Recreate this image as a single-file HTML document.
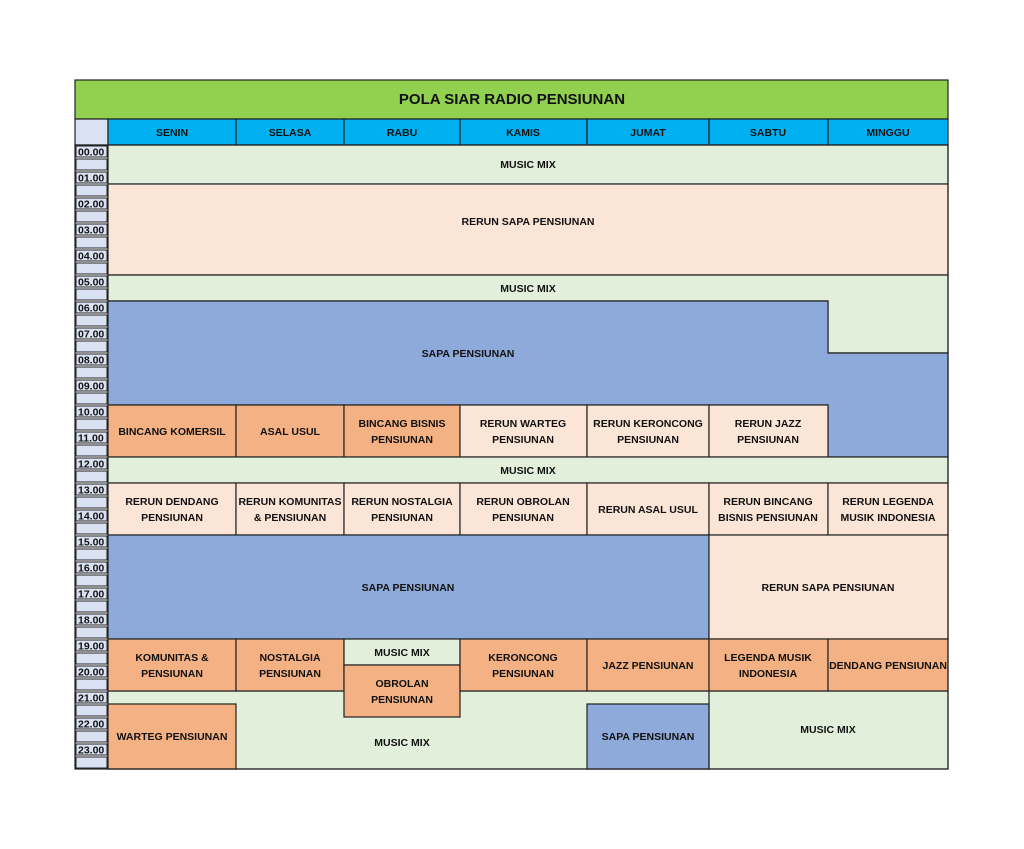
<!DOCTYPE html>
<html><head><style>body{margin:0;background:#fff}svg{display:block}text{font-family:"Liberation Sans",sans-serif;font-weight:bold;fill:#111}</style></head><body>
<svg width="1024" height="849" viewBox="0 0 1024 849" xmlns="http://www.w3.org/2000/svg">
<g stroke="#222" stroke-width="1.2">
<rect x="75" y="80" width="873" height="39" fill="#92d050"/>
<rect x="75" y="119" width="33" height="26" fill="#d9e1f2"/>
<rect x="108" y="119" width="128" height="26" fill="#00b0f0"/>
<rect x="236" y="119" width="108" height="26" fill="#00b0f0"/>
<rect x="344" y="119" width="116" height="26" fill="#00b0f0"/>
<rect x="460" y="119" width="127" height="26" fill="#00b0f0"/>
<rect x="587" y="119" width="122" height="26" fill="#00b0f0"/>
<rect x="709" y="119" width="119" height="26" fill="#00b0f0"/>
<rect x="828" y="119" width="120" height="26" fill="#00b0f0"/>
</g>
<g id="tc" stroke="#222" stroke-width="1" fill="#d9e1f2"></g>
<g stroke="#222" stroke-width="1.2">
<rect x="108" y="145" width="840" height="39" fill="#e2efda"/>
<rect x="108" y="184" width="840" height="91" fill="#fbe5d7"/>
<polygon points="108,275 948,275 948,353 828,353 828,301 108,301" fill="#e2efda"/>
<polygon points="108,301 828,301 828,353 948,353 948,457 828,457 828,405 108,405" fill="#8eaadb"/>
<rect x="108" y="405" width="128" height="52" fill="#f4b183"/>
<rect x="236" y="405" width="108" height="52" fill="#f4b183"/>
<rect x="344" y="405" width="116" height="52" fill="#f4b183"/>
<rect x="460" y="405" width="127" height="52" fill="#fbe5d7"/>
<rect x="587" y="405" width="122" height="52" fill="#fbe5d7"/>
<rect x="709" y="405" width="119" height="52" fill="#fbe5d7"/>
<rect x="108" y="457" width="840" height="26" fill="#e2efda"/>
<rect x="108" y="483" width="128" height="52" fill="#fbe5d7"/>
<rect x="236" y="483" width="108" height="52" fill="#fbe5d7"/>
<rect x="344" y="483" width="116" height="52" fill="#fbe5d7"/>
<rect x="460" y="483" width="127" height="52" fill="#fbe5d7"/>
<rect x="587" y="483" width="122" height="52" fill="#fbe5d7"/>
<rect x="709" y="483" width="119" height="52" fill="#fbe5d7"/>
<rect x="828" y="483" width="120" height="52" fill="#fbe5d7"/>
<rect x="108" y="535" width="601" height="104" fill="#8eaadb"/>
<rect x="709" y="535" width="239" height="104" fill="#fbe5d7"/>
<rect x="108" y="691" width="840" height="78" fill="#e2efda"/>
<rect x="108" y="639" width="128" height="52" fill="#f4b183"/>
<rect x="236" y="639" width="108" height="52" fill="#f4b183"/>
<rect x="344" y="639" width="116" height="26" fill="#e2efda"/>
<rect x="344" y="665" width="116" height="52" fill="#f4b183"/>
<rect x="460" y="639" width="127" height="52" fill="#f4b183"/>
<rect x="587" y="639" width="122" height="52" fill="#f4b183"/>
<rect x="709" y="639" width="119" height="52" fill="#f4b183"/>
<rect x="828" y="639" width="120" height="52" fill="#f4b183"/>
<rect x="108" y="704" width="128" height="65" fill="#f4b183"/>
<rect x="587" y="704" width="122" height="65" fill="#8eaadb"/>
<line x1="709" y1="691" x2="709" y2="769"/>
</g>
<g font-size="10.5" text-anchor="middle">
<text x="512" y="104" font-size="15">POLA SIAR RADIO PENSIUNAN</text>
<text x="172" y="136">SENIN</text><text x="290" y="136">SELASA</text><text x="402" y="136">RABU</text><text x="523" y="136">KAMIS</text><text x="648" y="136">JUMAT</text><text x="768" y="136">SABTU</text><text x="888" y="136">MINGGU</text>
<text x="528" y="168">MUSIC MIX</text>
<text x="528" y="225">RERUN SAPA PENSIUNAN</text>
<text x="528" y="292">MUSIC MIX</text>
<text x="468" y="357">SAPA PENSIUNAN</text>
<text x="172" y="435">BINCANG KOMERSIL</text>
<text x="290" y="435">ASAL USUL</text>
<text x="402" y="427">BINCANG BISNIS</text><text x="402" y="443">PENSIUNAN</text>
<text x="523" y="427">RERUN WARTEG</text><text x="523" y="443">PENSIUNAN</text>
<text x="648" y="427">RERUN KERONCONG</text><text x="648" y="443">PENSIUNAN</text>
<text x="768" y="427">RERUN JAZZ</text><text x="768" y="443">PENSIUNAN</text>
<text x="528" y="474">MUSIC MIX</text>
<text x="172" y="505">RERUN DENDANG</text><text x="172" y="521">PENSIUNAN</text>
<text x="290" y="505">RERUN KOMUNITAS</text><text x="290" y="521">&amp; PENSIUNAN</text>
<text x="402" y="505">RERUN NOSTALGIA</text><text x="402" y="521">PENSIUNAN</text>
<text x="523" y="505">RERUN OBROLAN</text><text x="523" y="521">PENSIUNAN</text>
<text x="648" y="513">RERUN ASAL USUL</text>
<text x="768" y="505">RERUN BINCANG</text><text x="768" y="521">BISNIS PENSIUNAN</text>
<text x="888" y="505">RERUN LEGENDA</text><text x="888" y="521">MUSIK INDONESIA</text>
<text x="408" y="591">SAPA PENSIUNAN</text>
<text x="828" y="591">RERUN SAPA PENSIUNAN</text>
<text x="172" y="661">KOMUNITAS &amp;</text><text x="172" y="677">PENSIUNAN</text>
<text x="290" y="661">NOSTALGIA</text><text x="290" y="677">PENSIUNAN</text>
<text x="402" y="656">MUSIC MIX</text>
<text x="402" y="687">OBROLAN</text><text x="402" y="703">PENSIUNAN</text>
<text x="523" y="661">KERONCONG</text><text x="523" y="677">PENSIUNAN</text>
<text x="648" y="669">JAZZ PENSIUNAN</text>
<text x="768" y="661">LEGENDA MUSIK</text><text x="768" y="677">INDONESIA</text>
<text x="888" y="669">DENDANG PENSIUNAN</text>
<text x="172" y="740">WARTEG PENSIUNAN</text>
<text x="402" y="746">MUSIC MIX</text>
<text x="648" y="740">SAPA PENSIUNAN</text>
<text x="828" y="733">MUSIC MIX</text>
</g>
<g id="tl" font-size="10.5"></g>
<script>
var tc=document.getElementById('tc'),tl=document.getElementById('tl'),ns='http://www.w3.org/2000/svg';
for(var i=0;i<48;i++){var r=document.createElementNS(ns,'rect');r.setAttribute('x',76);r.setAttribute('y',145+i*13+1);r.setAttribute('width',31);r.setAttribute('height',11);tc.appendChild(r);
if(i%2==0){var t=document.createElementNS(ns,'text');t.setAttribute('x',78);t.setAttribute('y',145+i*13+10.5);var h=i/2;t.textContent=(h<10?'0':'')+h+'.00';tl.appendChild(t);}}
</script>
<rect x="75" y="145" width="873" height="624" fill="none" stroke="#222" stroke-width="1.2"/>
</svg>
</body></html>
